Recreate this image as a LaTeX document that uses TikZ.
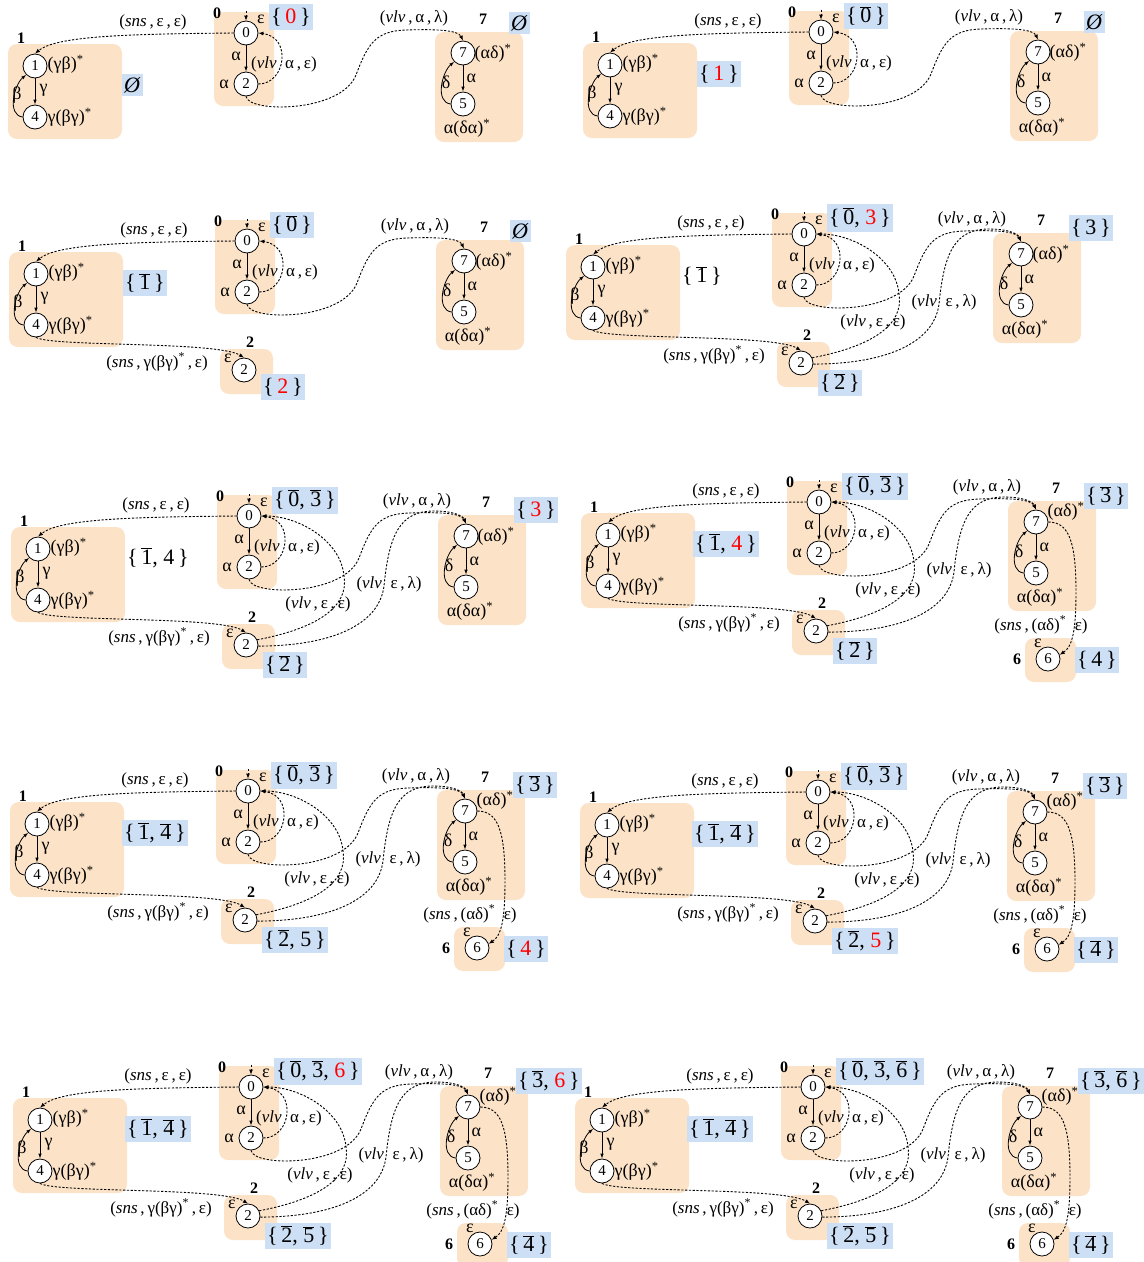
\documentclass[tikz,border=0pt]{standalone}
\usepackage{fontspec}
\setmainfont{Liberation Serif}
\usetikzlibrary{arrows.meta}
\definecolor{grpbg}{RGB}{252,227,200}
\definecolor{setblue}{RGB}{204,223,245}
\newcommand\ob[1]{$\overline{\mbox{#1}}$}
\newcommand\rd[1]{\textcolor{red}{#1}}
\tikzset{
 st/.style={circle, draw, line width=0.8pt, fill=white, minimum size=24pt, inner sep=0pt, font=\fontsize{15}{15}\selectfont},
 gl/.style={inner sep=0.5pt, font=\fontsize{18}{18}\selectfont},
 el/.style={inner sep=0.5pt, font=\fontsize{17}{17}\selectfont},
 bnum/.style={inner sep=0pt, font=\fontsize{16}{16}\selectfont\bfseries},
 setb/.style={fill=setblue, inner xsep=2pt, inner ysep=3.5pt, anchor=west, font=\fontsize{22}{22}\selectfont},
 setw/.style={setb, fill=none},
 grpfill/.style={fill=grpbg, rounded corners=9pt},
 dasharr/.style={dash pattern=on 2.2pt off 1.6pt, line width=0.9pt, -{Latex[length=5pt,width=4pt]}},
 solidarr/.style={line width=0.8pt, -{Latex[length=5pt,width=3.5pt]}},
}
% ---------- groups ----------
\newcommand\GZero{%
 \fill[grpfill] (-32,-21) rectangle (28,73);
 \node[st] (n0) at (0,0) {0};
 \node[st] (a2) at (0,51) {2};
 \node[bnum] (t0) at (-29,-20) {0};
 \node[gl] (e0) at (15,-14) {ε};
 \coordinate (i0) at (0,-22);
 \draw[dasharr] (i0) -- (n0);
 \draw[solidarr] (n0) -- (a2);
 \node[gl] (x0) at (-10,23) {α};
 \node[gl] (x2) at (-22,51) {α};
 \draw[dasharr] (a2.east) .. controls (40,51) and (46,4) .. (n0.east);
 \node[el] (v0) at (38,31) {(\textit{vlv}\,\,\,α\,,\,ε)};
}
\newcommand\GOne{%
 \fill[grpfill] (-238,11) rectangle (-124,106);
 \node[st] (n1) at (-211,33) {1};
 \node[st] (n4) at (-211,84) {4};
 \node[bnum] (t1) at (-225,5) {1};
 \node[gl,anchor=west] (r1) at (-199,31) {(γβ)\textsuperscript{*}};
 \node[gl,anchor=west] (r4) at (-199,84) {γ(βγ)\textsuperscript{*}};
 \draw[solidarr] (n1) -- (n4);
 \node[gl,anchor=west] (x1) at (-207,57) {γ};
 \draw[solidarr] (n4.west) .. controls +(-16,-2) and +(-12,10) .. (n1.south west);
 \node[gl] (b1) at (-229,62) {β};
}
\newcommand\GSeven[1]{%
 \fill[grpfill] (189,-1) rectangle (277,109);
 \node[st] (n7) at (217,20) {7};
 \node[st] (n5) at (217,71) {5};
 \node[bnum] (t7) at (237,-14) {7};
 \node[gl,anchor=west] (r7) at (228,#1) {(αδ)\textsuperscript{*}};
 \draw[solidarr] (n7) -- (n5);
 \node[gl,anchor=west] (x7) at (220,45) {α};
 \draw[solidarr] (n5.west) .. controls +(-16,-2) and +(-12,10) .. (n7.south west);
 \node[gl] (d7) at (200,49) {δ};
 \node[gl] (r5) at (221,95) {α(δα)\textsuperscript{*}};
}
\newcommand\GTwo{%
 \fill[grpfill] (-27,108) rectangle (26,153);
 \node[st] (b2) at (-3,129) {2};
 \node[bnum] (t2) at (3,101) {2};
 \node[gl] (e2) at (-19,117) {ε};
}
\newcommand\GSix{%
 \fill[grpfill] (206,136) rectangle (257,180);
 \node[st] (n6) at (229,157) {6};
 \node[bnum] (t6) at (198,157) {6};
 \node[gl] (e6) at (219,141) {ε};
}
% ---------- edges ----------
\newcommand\EOneZero{%
 \draw[dasharr] (n0.west) .. controls (-120,1) and (-190,3) .. (n1.north);
 \node[el] (l10) at (-93,-11) {(\textit{sns}\,,\,ε\,,\,ε)};
}
\newcommand\ETwoSeven{%
 \draw[dasharr] (a2.south) .. controls (2,80) and (95,80) .. (110,42) .. controls (122,10) and (130,-2) .. (160,-3) .. controls (190,-4) and (212,-3) .. (n7.north);
 \node[el] (l27) at (168,-15) {(\textit{vlv}\,,\,α\,,\,λ)};
}
\newcommand\EFourTwo{%
 \draw[dasharr] (n4.south) .. controls (-195,106) and (-30,100) .. (b2.north);
 \node[el] (l42) at (-90,121) {(\textit{sns}\,,\,γ(βγ)\textsuperscript{*}\,,\,ε)};
}
\newcommand\ETwoZero{%
 \draw[dasharr] (b2.25) .. controls (70,112) and (100,90) .. (95,60) .. controls (92,25) and (50,0) .. (n0.east);
 \node[el] (l20) at (69,88) {(\textit{vlv}\,,\,ε\,,\,ε)};
}
\newcommand\ETwoSevenB{%
 \draw[dasharr] (b2.-5) .. controls (80,130) and (130,110) .. (135,70) .. controls (140,20) and (150,-5) .. (185,-5) .. controls (205,-5) and (214,0) .. (n7.north);
 \node[el] (l2b7) at (140,68) {(\textit{vlv}\,\,\,ε\,,\,λ)};
}
\newcommand\ESevenSix{%
 \draw[dasharr] (n7.east) .. controls (250,20) and (257,40) .. (257,90) .. controls (257,130) and (253,145) .. (n6.20);
 \node[el] (l76) at (222,123) {(\textit{sns}\,,\,(αδ)\textsuperscript{*}\,\,\,ε)};
}
\begin{document}
\begin{tikzpicture}[x=1pt,y=-1pt]
\fill[white] (0,0) rectangle (1144,1262);
\useasboundingbox (0,0) rectangle (1144,1262);
% ===== Panel 1 =====
\begin{scope}[shift={(246,33)}, name prefix=p1-]
 \GZero \GOne \GSeven{20}
 \EOneZero \ETwoSeven
 \node[setb] (s0) at (23,-16) {\{\,\rd{0}\,\}};
 \node[setb] (s1) at (-124,52) {\textit{Ø}};
 \node[setb] (s7) at (263,-10) {\textit{Ø}};
\end{scope}
% ===== Panel 2 =====
\begin{scope}[shift={(821,32)}, name prefix=p2-]
 \GZero \GOne \GSeven{20}
 \EOneZero \ETwoSeven
 \node[setb] (s0) at (23,-16) {\{\,\ob{0}\,\}};
 \node[setb] (s1) at (-124,42) {\{\,\rd{1}\,\}};
 \node[setb] (s7) at (263,-10) {\textit{Ø}};
\end{scope}
% ===== Panel 3 =====
\begin{scope}[shift={(247,241)}, name prefix=p3-]
 \GZero \GOne \GSeven{20} \GTwo
 \EOneZero \ETwoSeven \EFourTwo
 \node[setb] (s0) at (23,-16) {\{\,\ob{0}\,\}};
 \node[setb] (s1) at (-124,42) {\{\,\ob{1}\,\}};
 \node[setb] (s7) at (263,-10) {\textit{Ø}};
 \node[setb] (s2) at (14,146) {\{\,\rd{2}\,\}};
\end{scope}
% ===== Panel 4 =====
\begin{scope}[shift={(804,234)}, name prefix=p4-]
 \GZero \GOne \GSeven{20} \GTwo
 \EOneZero \ETwoSeven \EFourTwo \ETwoZero \ETwoSevenB
 \node[setb] (s0) at (23,-16) {\{\,\ob{0}, \rd{3}\,\}};
 \node[setw] (s1) at (-124,42) {\{\,\ob{1}\,\}};
 \node[setb] (s7) at (265,-6) {\{\,3\,\}};
 \node[setb] (s2) at (14,149) {\{\,\ob{2}\,\}};
\end{scope}
% ===== Panel 5 =====
\begin{scope}[shift={(249,516)}, name prefix=p5-]
 \GZero \GOne \GSeven{20} \GTwo
 \EOneZero \ETwoSeven \EFourTwo \ETwoZero \ETwoSevenB
 \node[setb] (s0) at (23,-16) {\{\,\ob{0}, \ob{3}\,\}};
 \node[setw] (s1) at (-124,42) {\{\,\ob{1}, 4\,\}};
 \node[setb] (s7) at (265,-6) {\{\,\rd{3}\,\}};
 \node[setb] (s2) at (14,149) {\{\,\ob{2}\,\}};
\end{scope}
% ===== Panel 6 =====
\begin{scope}[shift={(819,502)}, name prefix=p6-]
 \GZero \GOne \GSeven{9} \GTwo \GSix
 \EOneZero \ETwoSeven \EFourTwo \ETwoZero \ETwoSevenB \ESevenSix
 \node[setb] (s0) at (23,-16) {\{\,\ob{0}, \ob{3}\,\}};
 \node[setb] (s1) at (-126,42) {\{\,\ob{1}, \rd{4}\,\}};
 \node[setb] (s7) at (265,-6) {\{\,\ob{3}\,\}};
 \node[setb] (s2) at (14,149) {\{\,\ob{2}\,\}};
 \node[setb] (s6) at (256,158) {\{\,4\,\}};
\end{scope}
% ===== Panel 7 =====
\begin{scope}[shift={(248,791)}, name prefix=p7-]
 \GZero \GOne \GSeven{9} \GTwo \GSix
 \EOneZero \ETwoSeven \EFourTwo \ETwoZero \ETwoSevenB \ESevenSix
 \node[setb] (s0) at (23,-16) {\{\,\ob{0}, \ob{3}\,\}};
 \node[setb] (s1) at (-126,42) {\{\,\ob{1}, \ob{4}\,\}};
 \node[setb] (s7) at (265,-6) {\{\,\ob{3}\,\}};
 \node[setb] (s2) at (14,149) {\{\,\ob{2}, 5\,\}};
 \node[setb] (s6) at (256,158) {\{\,\rd{4}\,\}};
\end{scope}
% ===== Panel 8 =====
\begin{scope}[shift={(818,792)}, name prefix=p8-]
 \GZero \GOne \GSeven{9} \GTwo \GSix
 \EOneZero \ETwoSeven \EFourTwo \ETwoZero \ETwoSevenB \ESevenSix
 \node[setb] (s0) at (23,-16) {\{\,\ob{0}, \ob{3}\,\}};
 \node[setb] (s1) at (-126,42) {\{\,\ob{1}, \ob{4}\,\}};
 \node[setb] (s7) at (265,-6) {\{\,\ob{3}\,\}};
 \node[setb] (s2) at (14,149) {\{\,\ob{2}, \rd{5}\,\}};
 \node[setb] (s6) at (256,158) {\{\,\ob{4}\,\}};
\end{scope}
% ===== Panel 9 =====
\begin{scope}[shift={(251,1087)}, name prefix=p9-]
 \GZero \GOne \GSeven{9} \GTwo \GSix
 \EOneZero \ETwoSeven \EFourTwo \ETwoZero \ETwoSevenB \ESevenSix
 \node[setb] (s0) at (23,-16) {\{\,\ob{0}, \ob{3}, \rd{6}\,\}};
 \node[setb] (s1) at (-126,42) {\{\,\ob{1}, \ob{4}\,\}};
 \node[setb] (s7) at (265,-6) {\{\,\ob{3}, \rd{6}\,\}};
 \node[setb] (s2) at (14,149) {\{\,\ob{2}, \ob{5}\,\}};
 \node[setb] (s6) at (256,158) {\{\,\ob{4}\,\}};
\end{scope}
% ===== Panel 10 =====
\begin{scope}[shift={(813,1087)}, name prefix=p10-]
 \GZero \GOne \GSeven{9} \GTwo \GSix
 \EOneZero \ETwoSeven \EFourTwo \ETwoZero \ETwoSevenB \ESevenSix
 \node[setb] (s0) at (23,-16) {\{\,\ob{0}, \ob{3}, \ob{6}\,\}};
 \node[setb] (s1) at (-126,42) {\{\,\ob{1}, \ob{4}\,\}};
 \node[setb] (s7) at (265,-6) {\{\,\ob{3}, \ob{6}\,\}};
 \node[setb] (s2) at (14,149) {\{\,\ob{2}, \ob{5}\,\}};
 \node[setb] (s6) at (256,158) {\{\,\ob{4}\,\}};
\end{scope}
\end{tikzpicture}
\end{document}
